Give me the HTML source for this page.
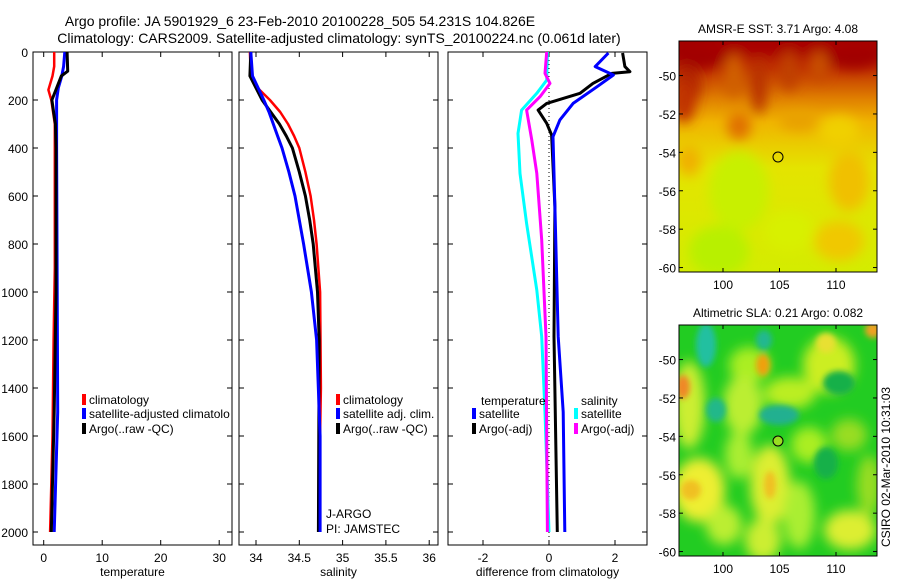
<!DOCTYPE html>
<html><head><meta charset="utf-8">
<style>
html,body{margin:0;padding:0;background:#fff;}
svg{display:block;font-family:"Liberation Sans",sans-serif;}
</style></head>
<body>
<svg id="fig" width="900" height="580" viewBox="0 0 900 580" xmlns="http://www.w3.org/2000/svg">
<defs>
<filter id="blur6" x="-50%" y="-50%" width="200%" height="200%"><feGaussianBlur stdDeviation="6"/></filter>
<filter id="blur3" x="-50%" y="-50%" width="200%" height="200%"><feGaussianBlur stdDeviation="3"/></filter>
<linearGradient id="sstGrad" x1="0" y1="0" x2="0" y2="1">
<stop offset="0" stop-color="#a80000"/>
<stop offset="0.12" stop-color="#c03000"/>
<stop offset="0.25" stop-color="#e08000"/>
<stop offset="0.35" stop-color="#f0b400"/>
<stop offset="0.55" stop-color="#e4e400"/>
<stop offset="1" stop-color="#d4ec00"/>
</linearGradient>
<clipPath id="clipTop"><rect x="0" y="0" width="198" height="231"/></clipPath>
<clipPath id="clipBot"><rect x="0" y="0" width="198" height="231"/></clipPath>
</defs>
<text x="300" y="26" font-size="14" text-anchor="middle">Argo profile: JA 5901929_6 23-Feb-2010 20100228_505 54.231S 104.826E</text>
<text x="339" y="43" font-size="14" text-anchor="middle">Climatology: CARS2009. Satellite-adjusted climatology: synTS_20100224.nc (0.061d later)</text>
<g id="panels"></g>
<g id="maps"></g>
</svg>
<script>
// ---- data (depth in dbar) ----
const tempClimDepth = [0, 60, 100, 158, 200, 300, 900, 1200, 1600, 2000];
const tempClimVal   = [1.8, 1.8, 1.5, 0.8, 1.3, 1.9, 1.9, 1.7, 1.5, 1.1];
const tempSatDepth  = [0, 60, 100, 150, 200, 400, 1000, 1500, 2000];
const tempSatVal    = [3.6, 3.4, 3.1, 2.5, 2.2, 2.2, 2.3, 2.4, 1.8];
const tempArgoDepth = [0, 80, 100, 150, 200, 250, 300, 400, 1000, 1500, 2000];
const tempArgoVal   = [4.0, 4.1, 3.0, 2.2, 1.4, 1.7, 2.0, 2.1, 2.1, 1.8, 1.3];

const salClimDepth = [0, 100, 150, 200, 250, 300, 350, 400, 500, 600, 700, 800, 1000, 1400, 2000];
const salClimVal   = [33.93, 33.94, 34.02, 34.16, 34.28, 34.37, 34.44, 34.5, 34.57, 34.63, 34.67, 34.7, 34.74, 34.75, 34.72];
const salSatDepth  = [0, 100, 200, 250, 300, 350, 400, 500, 600, 700, 800, 1000, 1200, 1600, 2000];
const salSatVal    = [33.94, 33.96, 34.09, 34.15, 34.2, 34.25, 34.3, 34.38, 34.45, 34.5, 34.55, 34.64, 34.7, 34.74, 34.74];
const salArgoDepth = [0, 100, 150, 200, 250, 300, 350, 400, 500, 600, 700, 800, 1000, 1200, 2000];
const salArgoVal   = [33.94, 33.93, 34.0, 34.07, 34.17, 34.27, 34.35, 34.42, 34.5, 34.57, 34.62, 34.66, 34.71, 34.73, 34.72];

const dTSatDepth  = [4, 61, 96, 145, 214, 283, 353, 645, 1186, 1500, 2000];
const dTSatVal    = [1.8, 1.4, 1.95, 1.45, 0.73, 0.33, 0.12, 0.18, 0.28, 0.43, 0.48];
const dTArgoDepth = [4, 61, 82, 89, 131, 172, 214, 242, 297, 346, 645, 1186, 2000];
const dTArgoVal   = [2.23, 2.3, 2.45, 1.9, 1.33, 0.94, -0.07, -0.33, -0.07, 0.08, 0.18, 0.15, 0.25];
const dSSatDepth  = [0, 117, 172, 242, 339, 506, 714, 992, 1186, 1500, 2000];
const dSSatVal    = [-0.05, -0.07, -0.37, -0.83, -0.94, -0.88, -0.68, -0.37, -0.22, -0.12, 0.0];
const dSArgoDepth = [0, 89, 131, 186, 242, 367, 506, 783, 1186, 2000];
const dSArgoVal   = [-0.07, -0.12, 0.03, -0.27, -0.68, -0.52, -0.37, -0.22, -0.09, -0.05];

const depthTicks = [0, 200, 400, 600, 800, 1000, 1200, 1400, 1600, 1800, 2000];
const tempTicks = [0, 10, 20, 30];
const salTicks = [34, 34.5, 35, 35.5, 36];
const salTickLabels = ["34", "34.5", "35", "35.5", "36"];
const diffTicks = [-2, 0, 2];
const lonTicks = [100, 105, 110];
const latTicks = [-50, -52, -54, -56, -58, -60];

const NS = "http://www.w3.org/2000/svg";
function mk(tag, attrs, parent, text) {
  const e = document.createElementNS(NS, tag);
  for (const k in attrs) e.setAttribute(k, attrs[k]);
  if (text !== undefined) e.textContent = text;
  parent.appendChild(e);
  return e;
}
const yTop = 52, yBot = 545;
function yD(d) { return 52 + d * 0.24; }
function xT(t) { return 43.7 + t * 5.85; }
function xS(s) { return 256 + (s - 34) * 86.6; }
function xDf(v) { return 549 + v * 33; }

const panels = document.getElementById('panels');

function drawAxes(x0, x1, ticks, labels, xf, title, name, showYLabels) {
  const g = mk('g', {}, panels);
  
  
  const box = mk('rect', {x: x0, y: yTop, width: x1 - x0, height: yBot - yTop, fill: 'none', stroke: '#000', 'stroke-width': 1}, g);
  
  
  depthTicks.forEach(d => {
    const y = yD(d);
    mk('line', {x1: x0, x2: x0 + 5, y1: y, y2: y, stroke: '#000'}, g);
    mk('line', {x1: x1, x2: x1 - 5, y1: y, y2: y, stroke: '#000'}, g);
    if (showYLabels) {
      const t = mk('text', {x: x0 - 5, y: y + 5, 'font-size': 12, 'text-anchor': 'end'}, g, String(d));
      
      
    }
  });
  ticks.forEach((v, i) => {
    const x = xf(v);
    mk('line', {x1: x, x2: x, y1: yBot, y2: yBot - 5, stroke: '#000'}, g);
    mk('line', {x1: x, x2: x, y1: yTop, y2: yTop + 5, stroke: '#000'}, g);
    const t = mk('text', {x: x, y: yBot + 17, 'font-size': 12, 'text-anchor': 'middle'}, g, labels[i]);
    
    
  });
  const tt = mk('text', {x: (x0 + x1) / 2, y: 576, 'font-size': 12, 'text-anchor': 'middle'}, g, title);
  
  
  return g;
}
function series(g, depths, vals, xf, color, w, name, clipX0, clipX1) {
  const pts = depths.map((d, i) => Math.max(clipX0, Math.min(clipX1, xf(vals[i]))).toFixed(1) + ',' + yD(d).toFixed(1)).join(' ');
  const p = mk('polyline', {points: pts, fill: 'none', stroke: color, 'stroke-width': w, 'stroke-linejoin': 'round'}, g);
  
  
}
function legend(g, x, y, color, label, name) {
  if (color) {
    const r = mk('rect', {x: x, y: y - 10, width: 4, height: 11, fill: color}, g);
    
    
  }
  const t = mk('text', {x: x + 7, y: y, 'font-size': 12}, g, label);
  
  
}

const g1 = drawAxes(33, 232, tempTicks, tempTicks.map(String), xT, 'temperature', 'temperature-panel', true);
series(g1, tempClimDepth, tempClimVal, xT, '#ff0000', 2.5, 'temp-climatology-line', 33, 232);
series(g1, tempSatDepth, tempSatVal, xT, '#0000ff', 3, 'temp-satellite-line', 33, 232);
series(g1, tempArgoDepth, tempArgoVal, xT, '#000000', 3, 'temp-argo-line', 33, 232);
legend(g1, 82, 404, '#ff0000', 'climatology', 'legend-entry-climatology');
legend(g1, 82, 418, '#0000ff', 'satellite-adjusted climatolo', 'legend-entry-satellite');
legend(g1, 82, 433, '#000000', 'Argo(..raw -QC)', 'legend-entry-argo');

const g2 = drawAxes(239, 438, salTicks, salTickLabels, xS, 'salinity', 'salinity-panel', false);
series(g2, salClimDepth, salClimVal, xS, '#ff0000', 2.5, 'sal-climatology-line', 239, 438);
series(g2, salArgoDepth, salArgoVal, xS, '#000000', 3, 'sal-argo-line', 239, 438);
series(g2, salSatDepth, salSatVal, xS, '#0000ff', 3, 'sal-satellite-line', 239, 438);
legend(g2, 336, 404, '#ff0000', 'climatology', 'legend-entry-sal-climatology');
legend(g2, 336, 418, '#0000ff', 'satellite adj. clim.', 'legend-entry-sal-satellite');
legend(g2, 336, 433, '#000000', 'Argo(..raw -QC)', 'legend-entry-sal-argo');
legend(g2, 319, 518, null, 'J-ARGO', 'note-j-argo');
legend(g2, 319, 533, null, 'PI: JAMSTEC', 'note-pi-jamstec');

const g3 = drawAxes(448, 647, diffTicks, diffTicks.map(String), xDf, 'difference from climatology', 'difference-panel', false);
const zl = mk('line', {x1: xDf(0), x2: xDf(0), y1: yTop, y2: yBot, stroke: '#000', 'stroke-dasharray': '1,3'}, g3);


series(g3, dSSatDepth, dSSatVal, xDf, '#00ffff', 3, 'sal-diff-satellite-line', 448, 647);
series(g3, dSArgoDepth, dSArgoVal, xDf, '#ff00ff', 3, 'sal-diff-argo-line', 448, 647);
series(g3, dTArgoDepth, dTArgoVal, xDf, '#000000', 3, 'temp-diff-argo-line', 448, 647);
series(g3, dTSatDepth, dTSatVal, xDf, '#0000ff', 3, 'temp-diff-satellite-line', 448, 647);
legend(g3, 474, 405, null, 'temperature', 'legend-title-temperature');
legend(g3, 472, 418, '#0000ff', 'satellite', 'legend-entry-temp-satellite');
legend(g3, 472, 433, '#000000', 'Argo(-adj)', 'legend-entry-temp-argo');
legend(g3, 574, 405, null, 'salinity', 'legend-title-salinity');
legend(g3, 574, 418, '#00ffff', 'satellite', 'legend-entry-sal-satellite');
legend(g3, 574, 433, '#ff00ff', 'Argo(-adj)', 'legend-entry-sal-argo');

const maps = document.getElementById('maps');
function lonX(x0, lon) { return x0 + 44 + (lon - 100) * 11.3; }
function drawMap(x0, y0, title, name, drawFill, latY) {
  const g = mk('g', {}, maps);
  
  
  const inner = mk('g', {transform: 'translate(' + x0 + ',' + y0 + ')', 'clip-path': 'url(#clip' + (name.indexOf('sst') >= 0 ? 'Top' : 'Bot') + ')'}, g);
  drawFill(inner);
  const c = mk('circle', {cx: 99, cy: 116, r: 5, fill: name.indexOf('sst') >= 0 ? 'none' : '#99dd22', stroke: '#000', 'stroke-width': 1}, inner);
  
  
  mk('rect', {x: x0, y: y0, width: 198, height: 231, fill: 'none', stroke: '#000'}, g);
  lonTicks.forEach(l => {
    const x = lonX(x0, l);
    mk('line', {x1: x, x2: x, y1: y0 + 231, y2: y0 + 227, stroke: '#000'}, g);
    mk('line', {x1: x, x2: x, y1: y0, y2: y0 + 4, stroke: '#000'}, g);
    const t = mk('text', {x: x, y: y0 + 248, 'font-size': 12, 'text-anchor': 'middle'}, g, String(l));
    
    
  });
  latTicks.forEach(l => {
    const y = latY(l);
    mk('line', {x1: x0, x2: x0 + 4, y1: y, y2: y, stroke: '#000'}, g);
    mk('line', {x1: x0 + 198, x2: x0 + 194, y1: y, y2: y, stroke: '#000'}, g);
    const t = mk('text', {x: x0 - 3, y: y + 5, 'font-size': 12, 'text-anchor': 'end'}, g, String(l));
    
    
  });
  const tt = mk('text', {x: x0 + 99, y: y0 - 8, 'font-size': 12, 'text-anchor': 'middle'}, g, title);
  
  
}
function blobs(g, list, filt) {
  const gg = mk('g', {filter: 'url(#' + filt + ')'}, g);
  list.forEach(b => mk('ellipse', {cx: b[0], cy: b[1], rx: b[2], ry: b[3], fill: b[4]}, gg));
}
drawMap(679, 41, 'AMSR-E SST: 3.71  Argo: 4.08', 'sst-map', g => {
  mk('rect', {x: 0, y: 0, width: 198, height: 231, fill: 'url(#sstGrad)'}, g);
  blobs(g, [
    [20, 10, 30, 18, '#a00000'], [175, 12, 30, 16, '#a00000'], [100, 5, 100, 8, '#a80000'],
    [8, 45, 14, 22, '#b02000'], [55, 35, 10, 22, '#d06000'], [80, 45, 8, 28, '#b83000'], [110, 30, 10, 20, '#c04000'], [140, 25, 10, 15, '#c85000'],
    [5, 60, 12, 22, '#c03000'], [60, 85, 12, 14, '#e07000'], [120, 80, 20, 10, '#e8a000'],
    [10, 120, 12, 15, '#f0b000'], [170, 140, 20, 30, '#f0c000'], [160, 200, 25, 20, '#f0c800'],
    [60, 150, 30, 40, '#c8f000'], [40, 210, 30, 25, '#b8f000'], [110, 190, 25, 20, '#d8f000'],
    [160, 90, 20, 15, '#f0d000']
  ], 'blur6');
}, l => 41 + (-48.2 - l) * 19.2);
drawMap(679, 325, 'Altimetric SLA: 0.21  Argo: 0.082', 'sla-map', g => {
  mk('rect', {x: 0, y: 0, width: 198, height: 231, fill: '#22cc22'}, g);
  blobs(g, [
    [70, 40, 20, 18, '#aaee22'], [150, 40, 26, 28, '#ccee22'], [10, 80, 16, 44, '#ccee33'],
    [64, 80, 20, 30, '#bbee33'], [111, 68, 26, 16, '#bbee22'], [20, 165, 26, 32, '#eeee33'],
    [91, 160, 20, 40, '#ddee33'], [84, 215, 18, 22, '#ccee33'], [171, 205, 26, 20, '#ddee33'],
    [45, 200, 18, 20, '#bbee33'], [130, 120, 18, 18, '#aaee22'], [170, 110, 18, 16, '#99dd22'],
    [120, 190, 16, 34, '#aaee33'], [60, 130, 14, 24, '#aaee33'], [190, 160, 12, 30, '#99dd22']
  ], 'blur6');
  blobs(g, [
    [27, 20, 10, 22, '#20c0a0'], [37, 85, 10, 12, '#22b88a'], [100, 90, 20, 10, '#22b090'],
    [85, 15, 8, 10, '#22b890'], [160, 58, 16, 12, '#18b048'], [147, 138, 12, 16, '#18b048'],
    [84, 40, 7, 11, '#f0a010'], [4, 62, 7, 12, '#f08828'], [194, 5, 8, 8, '#f0a020'],
    [12, 165, 10, 10, '#f0c020'], [91, 160, 6, 14, '#f0c020'], [147, 18, 10, 10, '#e8e030']
  ], 'blur3');
}, l => 325 + (-48.2 - l) * 19.2);
const cs = mk('text', {x: 0, y: 0, 'font-size': 12, 'text-anchor': 'middle', transform: 'translate(890,467) rotate(-90)'}, maps, 'CSIRO 02-Mar-2010 10:31:03');


</script>
</body></html>
